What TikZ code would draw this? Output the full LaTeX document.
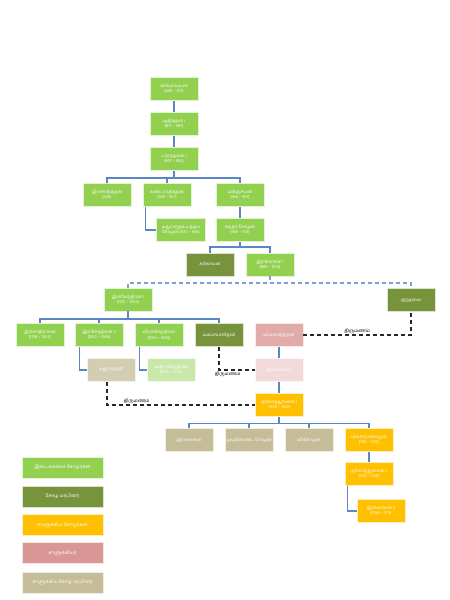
\documentclass[tikz,border=0pt]{standalone}
\usepackage{fontspec}
\newfontfamily\tamil[Script=Tamil]{Hind Madurai}
\definecolor{lgreen}{HTML}{92D050}
\definecolor{olive}{HTML}{77933C}
\definecolor{orng}{HTML}{FFC000}
\definecolor{pnk}{HTML}{D99694}
\definecolor{khaki}{HTML}{C4BD97}
\definecolor{lblue}{HTML}{5B86C4}
\begin{document}
\begin{tikzpicture}[x=1pt,y=-1pt,
  box/.style={fill=#1,draw=white!75!#1,line width=0.5pt,minimum width=48pt,minimum height=23pt,
    inner sep=1pt,align=center,text=white,font=\tamil\fontsize{4.2}{5.2}\selectfont},
  leg/.style={fill=#1,draw=white!75!#1,line width=0.5pt,minimum width=81pt,minimum height=21pt,
    inner sep=1pt,align=center,text=white,font=\tamil\fontsize{4.6}{5.5}\selectfont},
  conn/.style={draw=lblue,line width=1.1pt},
  bdash/.style={draw=lblue!80,line width=1.1pt,dash pattern=on 4pt off 3pt},
  mar/.style={draw=black!85,line width=1.3pt,dash pattern=on 4pt off 3pt},
  lbl/.style={font=\tamil\fontsize{4.6}{5.5}\selectfont,text=black,inner sep=1pt}]
\useasboundingbox (0,0) rectangle (450,600);
\fill[white] (0,0) rectangle (450,600);
% boxes
\node[box=lgreen] (v1) at (174,89) {விசயாலயன்\\(846 – 871)};
\node[box=lgreen] (a1) at (174,124) {ஆதித்தன் I\\(871 – 907)};
\node[box=lgreen] (p1) at (174,159) {பராந்தகன் I\\(907 – 955)};
\node[box=lgreen] (ra) at (107,195) {இராசாதித்தன்\\(949)};
\node[box=lgreen] (ka) at (167,195) {கண்டராதித்தன்\\(949 – 957)};
\node[box=lgreen] (ar) at (240,195) {அரிஞ்சயன்\\(956 – 957)};
\node[box=lgreen,minimum width=49pt] (mu) at (181,230) {மதுராந்தக உத்தம\\சோழன் (970 – 985)};
\node[box=lgreen] (su) at (240,230) {சுந்தர சோழன்\\(956 – 973)};
\node[box=olive] (kr) at (210,264.5) {கரிகாலன்};
\node[box=lgreen] (rr) at (270,264.5) {இராசராசன் I\\(985 – 1014)};
\node[box=lgreen] (re1) at (128,299.5) {இராசேந்திரன் I\\(1012 – 1044)};
\node[box=olive] (ku) at (411,300) {குந்தவை};
\node[box=lgreen] (rad) at (40,335) {இராசாதிராசன்\\(1018 – 1054)};
\node[box=lgreen] (re2) at (99,335) {இராசேந்திரன் II\\(1052 – 1064)};
\node[box=lgreen] (vr) at (159,335) {வீரராசேந்திரன்\\(1063 – 1069)};
\node[box=olive] (am) at (219,335) {அம்மங்காதேவி};
\node[box=pnk!80!white] (vi) at (279,335) {விமலாதித்தன்};
\node[box=khaki!75!white] (mt) at (111,370) {மதுராந்தகி};
\node[box=lgreen!50!white] (at) at (171,370) {அதிராசேந்திரன்\\(1067 – 1070)};
\node[box=pnk!35!white] (rr2) at (279,370) {இராசராசன்};
\node[box=orng] (ko1) at (279,405) {குலோத்துங்கன் I\\(1070 – 1120)};
\node[box=khaki] (r3) at (189,440) {இராசராசன்};
\node[box=khaki] (mc) at (249,440) {முடிகொண்ட சோழன்};
\node[box=khaki] (vs) at (309,440) {வீரசோழன்};
\node[box=orng] (vk) at (369,440) {விக்கிரமசோழன்\\(1118 – 1135)};
\node[box=orng] (ko2) at (369,474) {குலோத்துங்கன் II\\(1133 – 1150)};
\node[box=orng] (rr4) at (381,511) {இராசராசன் II\\(1146 – 1173)};
% legend
\node[leg=lgreen] (l1) at (62.5,467.5) {இடைக்காலச் சோழர்கள்};
\node[leg=olive] (l2) at (62.5,496.5) {சோழ மரபினர்};
\node[leg=orng] (l3) at (62.5,525) {சாளுக்கிய சோழர்கள்};
\node[leg=pnk] (l4) at (62.5,553) {சாளுக்கியர்};
\node[leg=khaki] (l5) at (62.5,582.5) {சாளுக்கிய சோழ மரபினர்};
% junctions
\coordinate (j1) at (174,178);
\coordinate (j2) at (240,247);
\coordinate (j3) at (270,283);
\coordinate (j4) at (129,319);
\coordinate (j5) at (279,423.5);
% connectors
\draw[conn] (v1.south) -- (a1.north);
\draw[conn] (a1.south) -- (p1.north);
\draw[conn] (p1.south) -- (j1);
\draw[conn] (ra.north) |- (j1) -| (ar.north);
\draw[conn] (ka.north) -- (ka.north |- j1);
\draw[conn] ([xshift=3pt]ka.south west) |- (mu.west);
\draw[conn] (ar.south) -- (su.north);
\draw[conn] (su.south) -- (j2);
\draw[conn] (kr.north) |- (j2) -| (rr.north);
\draw[bdash] (rr.south) -- (j3);
\draw[bdash] (re1.north) |- (j3) -| (ku.north);
\draw[conn] (re1.south) -- (re1.south |- j4);
\draw[conn] (rad.north) |- (j4) -| (am.north);
\draw[conn] (re2.north) -- (re2.north |- j4);
\draw[conn] (vr.north) -- (vr.north |- j4);
\draw[conn] ([xshift=5pt]re2.south west) |- (mt.west);
\draw[conn] ([xshift=5pt]vr.south west) |- (at.west);
\draw[conn] (vi.south) -- (rr2.north);
\draw[conn] (rr2.south) -- (ko1.north);
\draw[conn] (ko1.south) -- (j5);
\draw[conn] (r3.north) |- (j5) -| (vk.north);
\draw[conn] (mc.north) -- (mc.north |- j5);
\draw[conn] (vs.north) -- (vs.north |- j5);
\draw[conn] (vk.south) -- (ko2.north);
\draw[conn] ([xshift=3pt]ko2.south west) |- (rr4.west);
% marriages
\draw[mar] (vi.east) -| (ku.south) node[lbl,pos=0.25,above] (m1) {திருமணம்};
\draw[mar] (am.south) |- (rr2.west) node[lbl,pos=0.62,below] (m2) {திருமணம்};
\draw[mar] ([xshift=-4pt]mt.south) |- (ko1.west) node[lbl,pos=0.6,above] (m3) {திருமணம்};
\end{tikzpicture}
\end{document}
